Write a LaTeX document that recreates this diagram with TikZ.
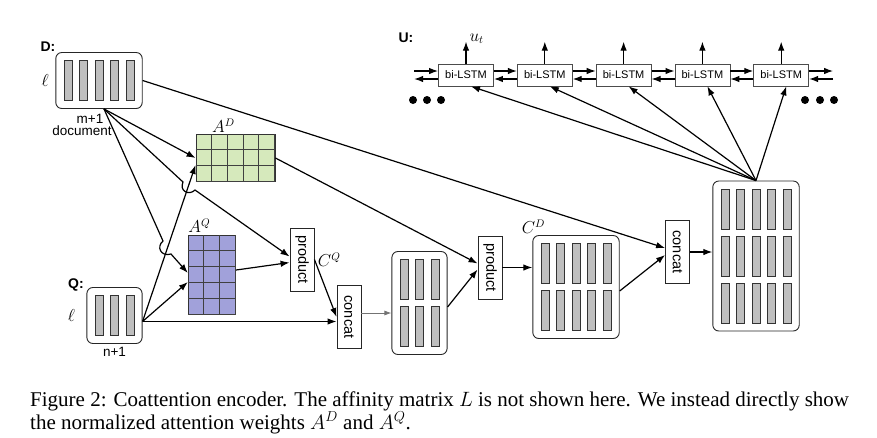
\documentclass[tikz,border=0pt]{standalone}
\usepackage{amsmath}
\usepackage{fontspec}
\setsansfont{Liberation Sans}
\newfontfamily\capfont{Liberation Serif}
\usepackage{tikz}
\usepackage{xcolor}
\usetikzlibrary{arrows,arrows.meta,positioning,calc}
\definecolor{matD}{RGB}{214,233,188}
\definecolor{matQ}{RGB}{161,161,218}
\tikzset{
	%Define standard arrow tip
	>={Latex[length=9pt,width=6.5pt]},
	%Define style for the rounded boxes of vectors
	stack/.style={
		rectangle,
		rounded corners=6pt,
		draw=black!85, line width=0.9pt,
		inner sep=0pt},
	%Define style for one vector
	bar/.style={
		rectangle,
		draw=black!80, line width=0.6pt,
		fill=black!25,
		minimum width=8pt, minimum height=40pt,
		inner sep=0pt},
	%Define style for product / concat boxes
	opbox/.style={
		rectangle,
		draw=black!85, line width=0.9pt,
		minimum width=24pt, minimum height=63pt,
		inner sep=0pt,
		font=\sffamily\fontsize{14.5}{16}\selectfont},
	%Define style for the bi-LSTM boxes
	lstm/.style={
		rectangle,
		draw=black!70, line width=0.8pt,
		minimum width=55pt, minimum height=22pt,
		inner sep=0pt,
		font=\sffamily\fontsize{11}{13}\selectfont},
	dotNode/.style={circle, fill=black, minimum size=8pt, inner sep=0pt},
	%Define styles for texts
	head/.style={font=\sffamily\bfseries\fontsize{14}{16}\selectfont},
	txt/.style={font=\sffamily\fontsize{13.5}{15}\selectfont},
	mathLbl/.style={font=\fontsize{16}{18}\selectfont},
	capText/.style={anchor=base west, inner sep=0pt, text height=13pt, text depth=2pt,
		font=\capfont\fontsize{21}{24}\selectfont},
	% Define arrow style
	edgeStyle/.style={
		->,
		line width=1.2pt},
	grayEdge/.style={
		-{Latex[length=7pt,width=5pt]},
		draw=black!55, line width=0.8pt}
}
% box of vectors: name, x, y, columns, rows
\newcommand{\vecstack}[5]{
	\node[stack, minimum width={(#4-1)*15.6+24}, minimum height={(#5-1)*47+56}] (#1) at (#2,#3) {};
	\foreach \i in {1,...,#4}
		\foreach \j in {1,...,#5}
			\node[bar] (#1b\i\j) at ($(#1)+({(\i-(#4+1)/2)*15.6},{(\j-(#5+1)/2)*47})$) {};
}
% attention matrix: name, x, y, columns, rows, colour
\newcommand{\attmat}[6]{
	\node[rectangle, draw=black!80, line width=0.9pt, fill=#6, inner sep=0pt,
		minimum width={#4*15.8}, minimum height={#5*15.8}] (#1) at (#2,#3) {};
	\foreach \i in {1,...,#4}
		\draw[black!75, line width=0.8pt] ($(#1.north west)+(\i*15.8,0)$) -- ($(#1.south west)+(\i*15.8,0)$);
	\foreach \j in {1,...,#5}
		\draw[black!75, line width=0.8pt] ($(#1.north west)+(0,\j*15.8)$) -- ($(#1.north east)+(0,\j*15.8)$);
}

\begin{document}
\begin{tikzpicture}[x=1pt,y=-1pt]
	\useasboundingbox (0,0) rectangle (877,437);
	
	%nodes
	\vecstack{docNode}{99}{80.5}{5}{1}
	\node[head] (docLabel) at (48,47) {D:};
	\node[mathLbl, left=3pt of docNode] (docEll) {$\ell$};
	\node[txt] (docSize) at (90,119) {m+1};
	\node[txt] (docName) at (82,131) {document};
	
	\vecstack{quesNode}{114.5}{315.5}{3}{1}
	\node[head] (quesLabel) at (76,285) {Q:};
	\node[mathLbl, left=8pt of quesNode] (quesEll) {$\ell$};
	\node[txt, below=0pt of quesNode] (quesSize) {n+1};
	
	\attmat{affDNode}{235.5}{158}{5}{3}{matD}
	\node[mathLbl, above right=-2pt and 13pt of affDNode.north west] (affDLabel) {$A^D$};
	\attmat{affQNode}{212}{275}{3}{5}{matQ}
	\node[mathLbl, above right=-1pt and -3pt of affQNode.north west] (affQLabel) {$A^Q$};
	
	\node[opbox] (prodQNode) at (302,259.5) {\rotatebox{-90}{product}};
	\node[mathLbl, right=0pt of prodQNode] (cQLabel) {$C^Q$};
	\node[opbox] (catQNode) at (349,317) {\rotatebox{-90}{concat}};
	\vecstack{mixNode}{419.5}{303}{3}{2}
	\node[opbox] (prodDNode) at (490,267.5) {\rotatebox{-90}{product}};
	\vecstack{cDNode}{576}{287}{5}{2}
	\node[mathLbl, above right=-2pt and -14pt of cDNode.north west] (cDLabel) {$C^D$};
	\node[opbox] (catDNode) at (677.5,252) {\rotatebox{-90}{concat}};
	\vecstack{encNode}{756}{256}{5}{3}
	
	%bi-LSTM row
	\node[head] (encLabel) at (406,38) {U:};
	\node[lstm] (lstm1) at (466,75) {bi-LSTM};
	\foreach \n [count=\p] in {2,...,5}
		\node[lstm, right=23pt of lstm\p] (lstm\n) {bi-LSTM};
	\coordinate[left=24pt of lstm1.west] (leftEnd);
	\coordinate[right=24pt of lstm5.east] (rightEnd);
	\foreach \n in {1,...,5}{
		\coordinate[above=22pt of lstm\n.north] (out\n);
		\draw (lstm\n.north) edge[edgeStyle] (out\n);
	}
	\node[mathLbl, right=0pt of out1, yshift=3pt] (outLabel) {$u_t$};
	\foreach \n [count=\p] in {2,...,5}{
		\draw ([yshift=4pt]lstm\p.east) edge[edgeStyle] ([yshift=4pt]lstm\n.west);
		\draw ([yshift=-4pt]lstm\n.west) edge[edgeStyle] ([yshift=-4pt]lstm\p.east);
	}
	\draw ([yshift=4pt]leftEnd) edge[edgeStyle] ([yshift=4pt]lstm1.west);
	\draw ([yshift=-4pt]lstm1.west) edge[edgeStyle] ([yshift=-4pt]leftEnd);
	\draw ([yshift=4pt]lstm5.east) edge[edgeStyle] ([yshift=4pt]rightEnd);
	\draw ([yshift=-4pt]rightEnd) edge[edgeStyle] ([yshift=-4pt]lstm5.east);
	\foreach \x [count=\k] in {413,427,441}
		\node[dotNode] (leftDot\k) at (\x,100) {};
	\foreach \x [count=\k] in {805,820,834}
		\node[dotNode] (rightDot\k) at (\x,100) {};
	
	%connections from the document
	\draw ([xshift=5pt]docNode.south) edge[edgeStyle] (affDNode.west);
	\draw[edgeStyle] ([xshift=5pt]docNode.south) -- (183,182) .. controls (179,191) and (189,196) .. (195,190) -- ([yshift=3pt]prodQNode.west);
	\draw[edgeStyle] ([xshift=5pt]docNode.south) -- (163,241) .. controls (156,247) and (161,257) .. (171,254) -- ([yshift=2pt]affQNode.west);
	\draw (docNode.east) edge[edgeStyle] ([yshift=4pt]catDNode.west);
	
	%connections from the question
	\draw ([yshift=-6pt]quesNode.east) edge[edgeStyle] ([yshift=-7pt]affDNode.west);
	\draw ([yshift=-6pt]quesNode.east) edge[edgeStyle] ([yshift=-7pt]affQNode.west);
	\draw ([yshift=-6pt]quesNode.east) edge[edgeStyle] ([yshift=-4.5pt]catQNode.west);
	
	%coattention
	\draw ([yshift=5pt]affQNode.east) edge[edgeStyle] ([yshift=-3pt]prodQNode.west);
	\draw (prodQNode.east) edge[edgeStyle] (catQNode.west);
	\draw ([yshift=4pt]catQNode.east) edge[grayEdge] ([yshift=-10pt]mixNode.west);
	\draw (affDNode.east) edge[edgeStyle] ([yshift=4pt]prodDNode.west);
	\draw ([yshift=-4pt]mixNode.east) edge[edgeStyle] ([yshift=-2pt]prodDNode.west);
	\draw (prodDNode.east) edge[edgeStyle] ([yshift=19.5pt]cDNode.west);
	\draw ([yshift=-4pt]cDNode.east) edge[edgeStyle] ([yshift=-3pt]catDNode.west);
	\draw (catDNode.east) edge[edgeStyle] ([yshift=4pt]encNode.west);
	\foreach \n in {1,...,5}
		\draw (encNode.north) edge[edgeStyle] ([xshift=5pt]lstm\n.south);
	
	%caption
	\node[capText] (capLine1) at (30,406) {Figure 2: Coattention encoder. The affinity matrix $L$ is not shown here. We instead directly show};
	\node[capText] (capLine2) at (30,429) {the normalized attention weights $A^D$ and $A^Q$.};
\end{tikzpicture}
\end{document}
